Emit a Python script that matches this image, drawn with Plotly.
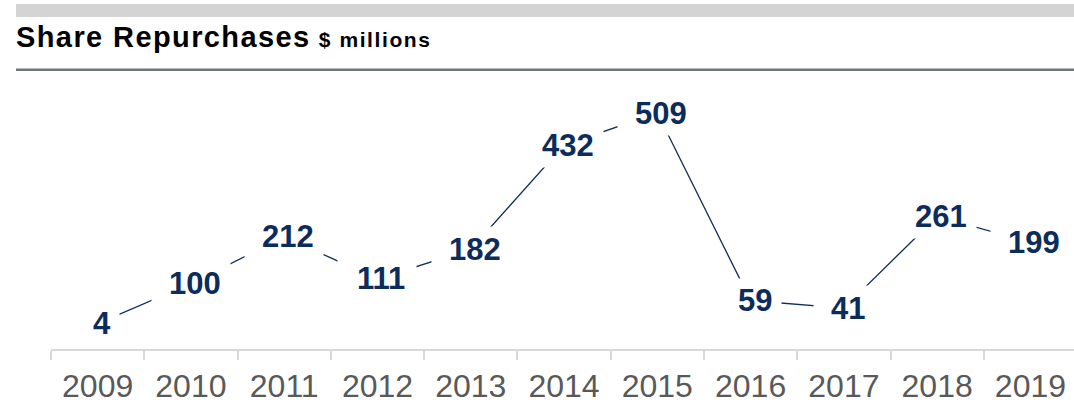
import plotly.graph_objects as go

# Share repurchases by year ($ millions)
years = ["2009", "2010", "2011", "2012", "2013", "2014",
         "2015", "2016", "2017", "2018", "2019"]
repurchases = [4, 100, 212, 111, 182, 432, 509, 59, 41, 261, 199]

title_text = "Share Repurchases"
unit_text = "$ millions"

W, H = 1074, 418
NAVY = "#0c2c5c"
FONT = "Liberation Sans"
LABEL_SIZE = 31


def px_x(p):
    return p / W


def px_y(p):
    return (H - p) / H


fig = go.Figure()

# Connecting line through the yearly values
fig.add_trace(go.Scatter(
    x=years, y=repurchases, mode="lines",
    line=dict(color=NAVY, width=1.3),
    hoverinfo="skip", showlegend=False,
))

annotations = []
# White boxes (no text) so the line stops short of each label
for i, v in enumerate(repurchases):
    n_chars = len(str(v))
    annotations.append(dict(
        x=i, y=v, xref="x", yref="y", text="\u00a0", showarrow=False,
        font=dict(family=FONT, size=LABEL_SIZE, color="white"),
        bgcolor="white", borderpad=0,
        width=n_chars * 0.556 * LABEL_SIZE + 26, height=44,
        xanchor="center", yanchor="middle",
    ))
# Value labels
for i, v in enumerate(repurchases):
    annotations.append(dict(
        x=i, y=v, xref="x", yref="y", text=f"<b>{v}</b>", showarrow=False,
        font=dict(family=FONT, size=LABEL_SIZE, color=NAVY),
        xanchor="center", yanchor="middle", xshift=4,
    ))

# Title
annotations.append(dict(
    x=px_x(14), y=px_y(55), xref="paper", yref="paper",
    xanchor="left", yanchor="bottom", showarrow=False,
    text=(f"<span style='letter-spacing:1.4px'><b>{title_text}</b></span> "
          f"<span style='font-size:21px;letter-spacing:1.6px'><b>{unit_text}</b></span>"),
    font=dict(family=FONT, size=29, color="#000000"),
))

shapes = [
    # grey band across the top
    dict(type="rect", xref="paper", yref="paper",
         x0=px_x(16), x1=1, y0=px_y(17), y1=px_y(4),
         fillcolor="#d4d4d4", line=dict(width=0), layer="below"),
    # rule under the title
    dict(type="line", xref="paper", yref="paper",
         x0=px_x(16), x1=1, y0=px_y(69.8), y1=px_y(69.8),
         line=dict(color="#6e7879", width=2.5)),
]

fig.update_layout(
    width=W, height=H,
    margin=dict(l=0, r=0, t=0, b=0),
    paper_bgcolor="white", plot_bgcolor="white",
    annotations=annotations, shapes=shapes,
    showlegend=False,
    xaxis=dict(
        type="category", categoryorder="array", categoryarray=years,
        domain=[px_x(51), 1], range=[-0.5, 10.467],
        tickson="boundaries", ticks="outside", ticklen=9, tickwidth=2,
        tickcolor="#d9d9d9", showline=True, linecolor="#d9d9d9", linewidth=2,
        showgrid=False, zeroline=False, automargin=False,
        tickfont=dict(family=FONT, size=32, color="#595959"),
        ticklabelstandoff=8,
        fixedrange=True,
    ),
    yaxis=dict(
        domain=[px_y(349), px_y(80)], range=[-57.1, 588.3],
        visible=False, showgrid=False, zeroline=False, automargin=False,
        fixedrange=True,
    ),
)

fig.write_html("out.html")
